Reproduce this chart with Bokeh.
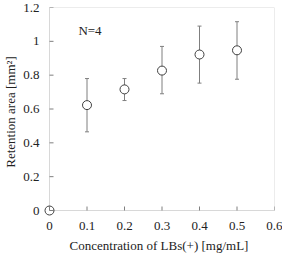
from bokeh.plotting import figure
from bokeh.models import ColumnDataSource, Whisker, FixedTicker, Label, TeeHead, BoxAnnotation
from bokeh.embed import file_html
from bokeh.resources import INLINE

conc = [0.0, 0.1, 0.2, 0.3, 0.4, 0.5]
area = [0.0, 0.623, 0.716, 0.827, 0.922, 0.947]
err_upper = [0.0, 0.78, 0.78, 0.97, 1.09, 1.116]
err_lower = [0.0, 0.465, 0.65, 0.69, 0.753, 0.776]

x_ticks = [0, 0.1, 0.2, 0.3, 0.4, 0.5, 0.6]
x_tick_labels = ["0", "0.1", "0.2", "0.3", "0.4", "0.5", "0.6"]
y_ticks = [0, 0.2, 0.4, 0.6, 0.8, 1.0, 1.2]
y_tick_labels = ["0", "0.2", "0.4", "0.6", "0.8", "1", "1.2"]

FONT = "Liberation Serif"
GRAY = "#7f7f7f"
TXT = "#222222"

# plot box is 225 x 203 px; the frame is padded by 6 px on the left and bottom
# so that the marker at the origin is not clipped
XMAX, YMAX = 0.6, 1.2
BOX_W, BOX_H = 225, 203
PAD = 6
padx = PAD * XMAX / BOX_W
pady = PAD * YMAX / BOX_H
TICK = 4
tickx = TICK * XMAX / BOX_W
ticky = TICK * YMAX / BOX_H

p = figure(frame_width=BOX_W + PAD, frame_height=BOX_H + PAD,
           x_range=(-padx, XMAX), y_range=(-pady, YMAX),
           output_backend="svg", toolbar_location=None,
           min_border_left=37, min_border_right=8, min_border_top=7, min_border_bottom=36)
p.background_fill_color = "white"
p.border_fill_color = "white"
p.outline_line_color = None
p.xgrid.visible = False
p.ygrid.visible = False

for ax, ticks, labels in ((p.xaxis[0], x_ticks, x_tick_labels), (p.yaxis[0], y_ticks, y_tick_labels)):
    ax.ticker = FixedTicker(ticks=ticks)
    ax.major_label_overrides = {t: l for t, l in zip(ticks, labels)}
    ax.major_tick_in = 0
    ax.major_tick_out = 0
    ax.major_tick_line_color = None
    ax.minor_tick_line_color = None
    ax.axis_line_color = None
    ax.major_label_text_font = FONT
    ax.major_label_text_font_size = "13px"
    ax.major_label_text_color = TXT
    ax.major_label_text_line_height = 1.0
    ax.axis_label_text_font = FONT
    ax.axis_label_text_font_size = "13px"
    ax.axis_label_text_font_style = "normal"
    ax.axis_label_text_color = TXT
    ax.axis_label_text_line_height = 1.0

p.xaxis.major_label_standoff = 5
p.yaxis.major_label_standoff = 4
p.xaxis.axis_label = "Concentration of LBs(+) [mg/mL]"
p.yaxis.axis_label = "Retention area [mm²]"
p.xaxis.axis_label_standoff = 5
p.yaxis.axis_label_standoff = 2

# plot box outline at the axis values
p.add_layout(BoxAnnotation(left=0, right=XMAX, bottom=0, top=YMAX, fill_alpha=0,
                           line_color=GRAY, line_width=1))

# inward ticks on the bottom and left sides of the box
p.segment(x0=x_ticks, x1=x_ticks, y0=[0] * len(x_ticks), y1=[ticky] * len(x_ticks),
          line_color=GRAY, line_width=1)
p.segment(x0=[0] * len(y_ticks), x1=[tickx] * len(y_ticks), y0=y_ticks, y1=y_ticks,
          line_color=GRAY, line_width=1)

src = ColumnDataSource(dict(x=conc[1:], y=area[1:], up=err_upper[1:], lo=err_lower[1:]))
w = Whisker(source=src, base="x", upper="up", lower="lo", line_color=GRAY, line_width=1,
            upper_head=TeeHead(size=4, line_color=GRAY), lower_head=TeeHead(size=4, line_color=GRAY))
p.add_layout(w)

fa = [0.0 if v == 0 else 1.0 for v in area]
src_all = ColumnDataSource(dict(x=conc, y=area, fa=fa))
r = p.scatter("x", "y", source=src_all, size=9, marker="circle", fill_color="white",
              fill_alpha="fa", line_color="#404040", line_width=1)
r.level = "overlay"

p.add_layout(Label(x=0.077, y=1.066, text="N=4", text_font=FONT, text_font_size="13px",
                   text_baseline="middle", text_align="left", text_color=TXT))

open("out.html", "w").write(file_html(p, INLINE))
